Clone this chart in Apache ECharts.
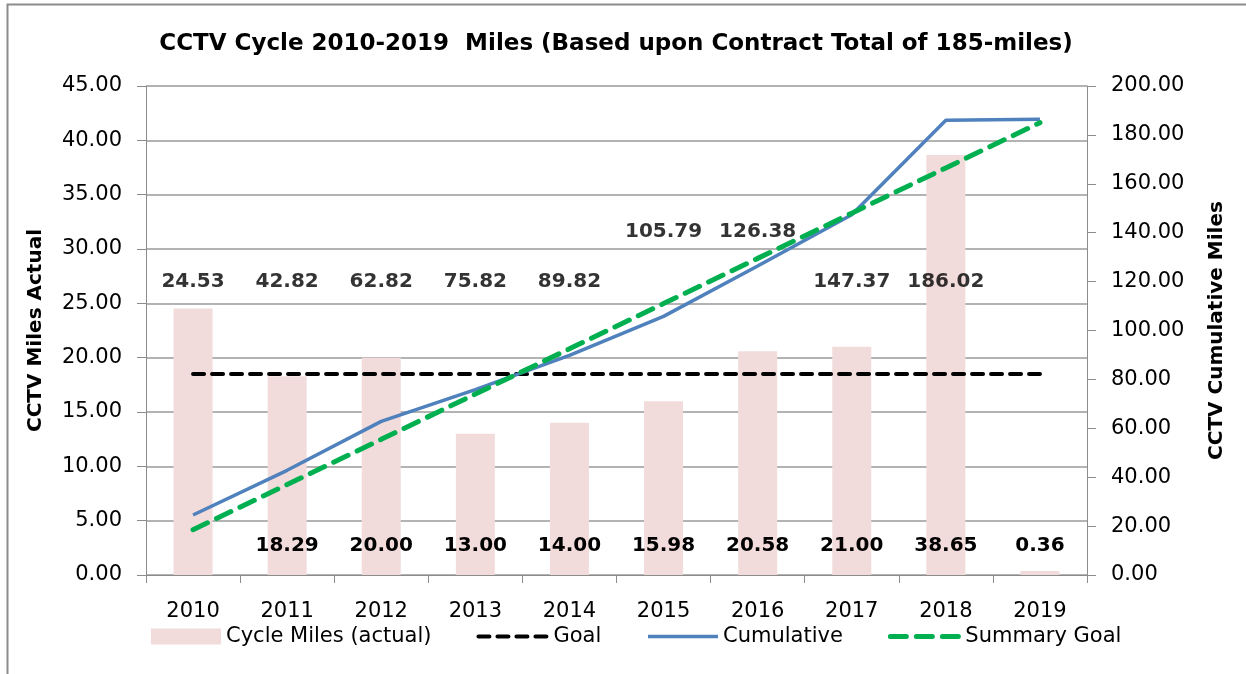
<!DOCTYPE html>
<html>
<head>
<meta charset="utf-8">
<script src="https://cdn.jsdelivr.net/npm/echarts@6/dist/echarts.min.js"></script>
<style>
  html, body { margin: 0; padding: 0; background: #fff; }
  #chart { width: 1246px; height: 674px; }
</style>
</head>
<body>
<div id="chart"></div>
<script>
// data
var years = ['2010', '2011', '2012', '2013', '2014', '2015', '2016', '2017', '2018', '2019'];
var cycleMiles = [24.53, 18.29, 20.00, 13.00, 14.00, 15.98, 20.58, 21.00, 38.65, 0.36];
var goal = [18.5, 18.5, 18.5, 18.5, 18.5, 18.5, 18.5, 18.5, 18.5, 18.5];
var cumulative = [24.53, 42.82, 62.82, 75.82, 89.82, 105.79, 126.38, 147.37, 186.02, 186.38];
var summaryGoal = [18.5, 37, 55.5, 74, 92.5, 111, 129.5, 148, 166.5, 185];

// where the cumulative labels sit (left axis units), like the hand placed labels in the original
var cumLabelRow = [27, 27, 27, 27, 27, 31.6, 31.6, 27, 27, null];

var FONT = 'DejaVu Sans';
var chart = echarts.init(document.getElementById('chart'));

var barData = cycleMiles.map(function (v, i) {
    if (i === 0) return { value: v, label: { show: false } }; // first label hidden in original
    return v;
});
var cumLabelData = [];
for (var i = 0; i < years.length; i++) {
    if (cumLabelRow[i] != null) cumLabelData.push([i, cumLabelRow[i], cumulative[i]]);
}

var goalLine = { color: '#000', width: 4, type: [11, 8], cap: 'round' };
var cumLine = { color: '#4F81BD', width: 3.5 };
var sumLine = { color: '#00B050', width: 5, type: [16, 10], cap: 'round' };
var noSymbol = { color: 'rgba(0,0,0,0)', borderWidth: 0 };

var option = {
    animation: false,
    backgroundColor: '#fff',
    textStyle: { fontFamily: FONT },
    title: {
        text: 'CCTV Cycle 2010-2019  Miles (Based upon Contract Total of 185-miles)',
        left: 611, top: 28, textAlign: 'center',
        textStyle: { fontFamily: FONT, fontSize: 23, fontWeight: 'bold', color: '#000' }
    },
    graphic: [{
        type: 'rect', left: 5, top: 2, silent: true,
        shape: { width: 1300, height: 720 },
        style: { fill: 'none', stroke: '#8c8c8c', lineWidth: 2 }
    }],
    legend: {
        bottom: 22, left: 146,
        itemWidth: 70, itemHeight: 16, itemGap: 45,
        textStyle: { fontFamily: FONT, fontSize: 21, color: '#000' },
        data: [
            { name: 'Cycle Miles (actual)', icon: 'rect' },
            { name: 'Goal', lineStyle: goalLine, itemStyle: noSymbol },
            { name: 'Cumulative', lineStyle: cumLine, itemStyle: noSymbol },
            { name: 'Summary Goal', lineStyle: sumLine, itemStyle: noSymbol }
        ]
    },
    grid: { left: 146, right: 159, top: 86, bottom: 99 },
    xAxis: {
        type: 'category',
        data: years,
        boundaryGap: true,
        axisLine: { lineStyle: { color: '#8c8c8c', width: 1 } },
        axisTick: { show: true, length: 8, lineStyle: { color: '#8c8c8c' } },
        axisLabel: { fontFamily: FONT, fontSize: 21, color: '#000', margin: 26 }
    },
    yAxis: [{
        type: 'value', min: 0, max: 45, interval: 5,
        name: 'CCTV Miles Actual', nameLocation: 'middle', nameRotate: 90, nameGap: 100,
        nameTextStyle: { fontFamily: FONT, fontSize: 20, fontWeight: 'bold', color: '#000' },
        axisLine: { show: true, lineStyle: { color: '#8c8c8c' } },
        axisTick: { show: true, length: 9, lineStyle: { color: '#8c8c8c' } },
        axisLabel: {
            fontFamily: FONT, fontSize: 21, color: '#000', margin: 24,
            formatter: function (v) { return v.toFixed(2); }
        },
        splitLine: { show: true, lineStyle: { color: '#9a9a9a', width: 1.5 } }
    }, {
        type: 'value', min: 0, max: 200, interval: 20,
        name: 'CCTV Cumulative Miles', nameLocation: 'middle', nameRotate: 90, nameGap: 120,
        nameTextStyle: { fontFamily: FONT, fontSize: 20, fontWeight: 'bold', color: '#000' },
        axisLine: { show: true, lineStyle: { color: '#8c8c8c' } },
        axisTick: { show: true, length: 9, lineStyle: { color: '#8c8c8c' } },
        axisLabel: {
            fontFamily: FONT, fontSize: 21, color: '#000', margin: 24,
            formatter: function (v) { return v.toFixed(2); }
        },
        splitLine: { show: false }
    }],
    series: [{
        name: 'Cycle Miles (actual)',
        type: 'bar',
        yAxisIndex: 0,
        barWidth: 39,
        itemStyle: { color: '#F2DCDB' },
        label: {
            show: true, position: 'insideBottom', distance: 19,
            fontFamily: FONT, fontSize: 20, fontWeight: 'bold', color: '#000',
            formatter: function (p) { return p.value.toFixed(2); }
        },
        data: barData,
        z: 1
    }, {
        name: 'Goal',
        type: 'line',
        yAxisIndex: 0,
        symbol: 'none',
        lineStyle: goalLine,
        itemStyle: { color: '#000' },
        data: goal,
        z: 3
    }, {
        name: 'Cumulative',
        type: 'line',
        yAxisIndex: 1,
        symbol: 'none',
        lineStyle: cumLine,
        itemStyle: { color: '#4F81BD' },
        data: cumulative,
        z: 4
    }, {
        name: 'Summary Goal',
        type: 'line',
        yAxisIndex: 1,
        symbol: 'none',
        lineStyle: sumLine,
        itemStyle: { color: '#00B050' },
        data: summaryGoal,
        z: 5
    }, {
        // carries the cumulative value labels
        name: 'cumLabels',
        type: 'scatter',
        yAxisIndex: 0,
        symbolSize: 0,
        silent: true,
        label: {
            show: true, position: 'inside',
            fontFamily: FONT, fontSize: 20, fontWeight: 'bold', color: '#000',
            formatter: function (p) { return p.value[2].toFixed(2); }
        },
        data: cumLabelData,
        z: 6
    }]
};

chart.setOption(option);
</script>
</body>
</html>
